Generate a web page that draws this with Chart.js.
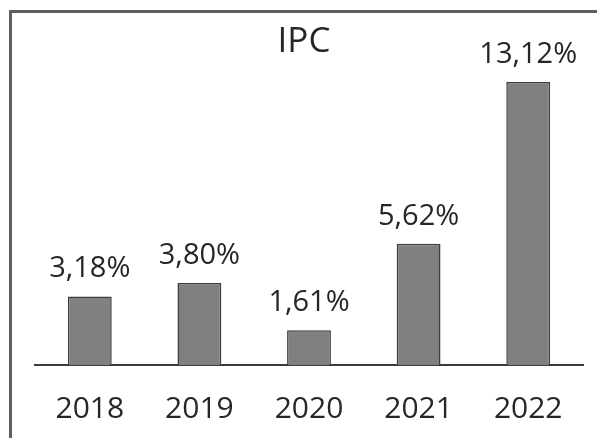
<!DOCTYPE html>
<html>
<head>
<meta charset="utf-8">
<script src="https://cdn.jsdelivr.net/npm/chart.js@4"></script>
<style>
  html, body { margin: 0; padding: 0; background: #fff; }
  #wrap { position: relative; width: 597px; height: 438px; overflow: hidden; }
  #frame {
    position: absolute; left: 9px; top: 10px; width: 700px; height: 600px;
    border-left: 3px solid #5e5e5e; border-top: 3px solid #5e5e5e;
  }
  canvas { position: absolute; left: 0; top: 0; }
</style>
</head>
<body>
<div id="wrap">
  <div id="frame"></div>
  <canvas id="chart" width="597" height="438"></canvas>
</div>
<script>
const title = 'IPC';
const years = ['2018', '2019', '2020', '2021', '2022'];
const ipc = [3.18, 3.80, 1.61, 5.62, 13.12];

const FONT = "'Open Sans', 'Noto Sans', sans-serif";
const TEXT = '#262626';

// title plus value labels above each bar (comma as decimal separator)
const barLabels = {
  id: 'barLabels',
  afterDatasetsDraw(chart) {
    const ctx = chart.ctx;
    const meta = chart.getDatasetMeta(0);
    ctx.save();
    ctx.fillStyle = TEXT;
    ctx.textAlign = 'center';
    ctx.textBaseline = 'alphabetic';
    ctx.font = '35px ' + FONT;
    ctx.fillText(title, 304, 52);
    ctx.font = '29px ' + FONT;
    meta.data.forEach((bar, i) => {
      const txt = ipc[i].toFixed(2).replace('.', ',') + '%';
      ctx.fillText(txt, bar.x, bar.y - 19);
    });
    ctx.restore();
  }
};

new Chart(document.getElementById('chart'), {
  type: 'bar',
  data: {
    labels: years,
    datasets: [{
      data: ipc,
      backgroundColor: '#808080',
      borderColor: '#3c3c3c',
      borderWidth: 1.5,
      barPercentage: 0.4,
      categoryPercentage: 1
    }]
  },
  options: {
    responsive: false,
    animation: false,
    layout: { padding: { left: 35, right: 14, top: 82, bottom: 11 } },
    plugins: {
      legend: { display: false },
      tooltip: { enabled: false },
      title: { display: false }
    },
    scales: {
      x: {
        grid: { display: false, drawTicks: false },
        border: { display: true, color: '#3c3c3c', width: 2 },
        ticks: { color: TEXT, padding: 26, font: { family: FONT, size: 30 } },
        afterFit(scale) { scale.height = 62; }
      },
      y: {
        display: false,
        min: 0,
        max: 13.12
      }
    }
  },
  plugins: [barLabels]
});
</script>
</body>
</html>
